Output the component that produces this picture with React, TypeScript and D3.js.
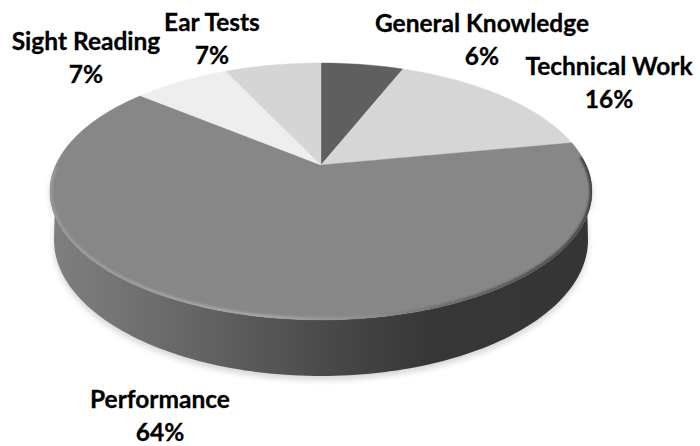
import React from 'react';
import * as d3 from 'd3';

const categories = ['General Knowledge', 'Technical Work', 'Performance', 'Sight Reading', 'Ear Tests'];
const shares = [6, 16, 64, 7, 7];
const sliceColors = ['#5f5f5f', '#d6d6d6', '#878787', '#eeeeee', '#d5d5d5'];

// label centre x and first baseline, same order as categories
const labelX = [482, 609, 160, 86, 212];
const labelY = [32, 75, 408, 50, 31];

const width = 700;
const height = 446;
const apex = { x: 321, y: 165 };
const spreadX = 265.2;
const spreadY = 123;
const tilt = 0.206;

// projects an angle on the pie's circle to the tilted disc
const project = (angle: number): [number, number] => {
  const u = Math.sin(angle);
  const v = Math.cos(angle);
  const d = 1 + tilt * v;
  return [apex.x + (spreadX * u) / d, apex.y - (spreadY * v) / d];
};

const line = d3.line<[number, number]>();
const tau = Math.PI * 2;

const arcPoints = (start: number, end: number) => {
  const n = Math.max(2, Math.ceil(((end - start) / tau) * 240));
  const a = d3.scaleLinear().domain([0, n]).range([start, end]);
  return d3.range(n + 1).map(i => project(a(i)));
};

const pie = d3.pie<number>().sort(null).value(d => d);
const slices = pie(shares);

// lower rim, a bit narrower than the top face
const bottomEllipse = (start: number, end: number): [number, number][] => {
  const a = d3.scaleLinear().domain([0, 120]).range([start, end]);
  return d3.range(121).map(i => [
    321 + 267 * Math.cos(a(i)),
    240 + 136 * Math.sin(a(i)),
  ]);
};

const sidePath = () => {
  const top = arcPoints(Math.PI * 0.5, Math.PI * 1.5);
  const bottom = bottomEllipse(Math.PI * 1, 0);
  return line([...top, ...bottom])! + 'Z';
};

const App = () => {
  return (
    <svg
      width={width}
      height={height}
      viewBox={`0 0 ${width} ${height}`}
      style={{ position: 'absolute', left: 0, top: 0, background: '#fff' }}
    >
      <defs>
        <linearGradient id="side" gradientUnits="userSpaceOnUse" x1="50" x2="592" y1="0" y2="0">
          <stop offset="0" stopColor="#808080" />
          <stop offset="0.2" stopColor="#6c6c6c" />
          <stop offset="0.4" stopColor="#565656" />
          <stop offset="0.56" stopColor="#444444" />
          <stop offset="0.7" stopColor="#373737" />
          <stop offset="1" stopColor="#353535" />
        </linearGradient>
        <linearGradient id="rim" gradientUnits="userSpaceOnUse" x1="50" x2="592" y1="0" y2="0">
          <stop offset="0" stopColor="#9a9a9a" />
          <stop offset="0.4" stopColor="#a8a8a8" />
          <stop offset="0.6" stopColor="#8c8c8c" />
          <stop offset="0.8" stopColor="#5c5c5c" />
          <stop offset="1" stopColor="#404040" />
        </linearGradient>
        <filter id="soft" x="-10%" y="-10%" width="120%" height="130%">
          <feGaussianBlur stdDeviation="3" />
        </filter>
        <filter id="softRim" x="-5%" y="-5%" width="110%" height="110%">
          <feGaussianBlur stdDeviation="1" />
        </filter>
        <clipPath id="face">
          <path d={line(arcPoints(0, tau))! + 'Z'} />
        </clipPath>
      </defs>

      <path d={sidePath()} fill="#000" opacity={0.16} filter="url(#soft)" transform="translate(0,4)" />
      <path d={sidePath()} fill="url(#side)" />

      {slices.map((s, i) => (
        <path
          key={categories[i]}
          d={line([[apex.x, apex.y], ...arcPoints(s.startAngle, s.endAngle)])! + 'Z'}
          fill={sliceColors[i]}
          stroke={sliceColors[i]}
          strokeWidth={0.4}
        />
      ))}

      <g clipPath="url(#face)">
        <path
          d={line(arcPoints(slices[2].startAngle + 0.12, slices[2].endAngle - 0.7))!}
          fill="none"
          stroke="url(#rim)"
          strokeWidth={5}
          filter="url(#softRim)"
        />
      </g>

      <g
        fontFamily="Lato, sans-serif"
        fontWeight={700}
        fontSize={24.5}
        fill="#000"
        stroke="#000"
        strokeWidth={0.3}
        textAnchor="middle"
      >
        {categories.map((c, i) => (
          <text key={c} x={labelX[i]} y={labelY[i]}>
            <tspan x={labelX[i]}>{c}</tspan>
            <tspan x={labelX[i]} dy={32.5}>{`${shares[i]}%`}</tspan>
          </text>
        ))}
      </g>
    </svg>
  );
};

export default App;
